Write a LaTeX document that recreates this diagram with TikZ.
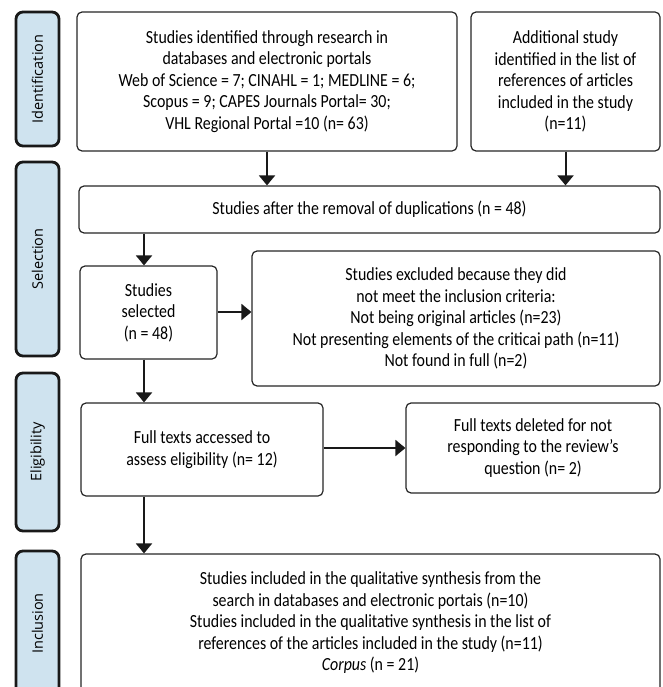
\documentclass[tikz,border=0pt]{standalone}
\usepackage{fontspec}
\setmainfont{Carlito}[FakeStretch=0.86]
\newfontfamily\labfont{Open Sans}
\usetikzlibrary{arrows.meta}
\definecolor{labblue}{HTML}{CFE3EF}
\tikzset{
  box/.style={draw=black!85, line width=1.2pt, rounded corners=5pt, fill=white,
    align=center, inner sep=0pt, font=\fontsize{18.5}{21.5}\selectfont},
  stage/.style={draw=black!90, line width=2.8pt, rounded corners=7pt, fill=labblue,
    inner sep=0pt, font=\labfont\fontsize{14.5}{16}\selectfont},
  arr/.style={line width=2pt, draw=black!90, -{Triangle[width=16pt,length=10pt]}}
}
\begin{document}
\begin{tikzpicture}[x=1pt,y=-1pt]
\useasboundingbox (0,0) rectangle (662,687);
% stage labels
\node[stage, minimum width=43pt, minimum height=134pt] (sid) at (37.5,79) {\rotatebox{90}{Identification}};
\node[stage, minimum width=43pt, minimum height=194pt] (ssel) at (37.5,259) {\rotatebox{90}{Selection}};
\node[stage, minimum width=43pt, minimum height=158pt] (selig) at (37.5,452) {\rotatebox{90}{Eligibility}};
\node[stage, minimum width=43pt, minimum height=145pt] (sinc) at (37.5,623.5) {\rotatebox{90}{Inclusion}};
% boxes
\node[box, minimum width=380pt, minimum height=139pt] (b1) at (267,81.5)
  {Studies identified through research in\\ databases and electronic portals\\
   Web of Science = 7; CINAHL = 1; MEDLINE = 6;\\ Scopus = 9; CAPES Journals Portal= 30;\\
   VHL Regional Portal =10 (n= 63)};
\node[box, minimum width=189pt, minimum height=139pt] (b2) at (565.5,81.5)
  {Additional study\\ identified in the list of\\ references of articles\\ included in the study\\ (n=11)};
\node[box, minimum width=581pt, minimum height=47pt] (b3) at (369.5,209.5)
  {Studies after the removal of duplications (n = 48)};
\node[box, minimum width=137pt, minimum height=93pt] (sel) at (148.5,312.5)
  {Studies\\ selected\\ (n = 48)};
\node[box, minimum width=408pt, minimum height=135pt] (exc) at (456,318.5)
  {Studies excluded because they did\\ not meet the inclusion criteria:\\
   Not being original articles (n=23)\\ Not presenting elements of the criticai path (n=11)\\
   Not found in full (n=2)};
\node[box, minimum width=242pt, minimum height=93pt] (full) at (202,449.5)
  {Full texts accessed to\\ assess eligibility (n= 12)};
\node[box, minimum width=254pt, minimum height=90pt] (del) at (533,448)
  {Full texts deleted for not\\ responding to the review’s\\ question (n= 2)};
\node[box, minimum width=579pt, minimum height=138pt] (inc) at (370.5,623)
  {Studies included in the qualitative synthesis from the\\
   search in databases and electronic portais (n=10)\\
   Studies included in the qualitative synthesis in the list of\\
   references of the articles included in the study (n=11)\\
   \textit{Corpus} (n = 21)};
% arrows
\coordinate (cx) at (144,0);
\draw[arr] (b1.south) -- (b1.south |- b3.north);
\draw[arr] (b2.south) -- (b2.south |- b3.north);
\draw[arr] (b3.south -| cx) -- (sel.north -| cx);
\draw[arr] (sel.east |- 0,312) -- (exc.west |- 0,312);
\draw[arr] (sel.south -| cx) -- (full.north -| cx);
\draw[arr] (full.east |- 0,448) -- (del.west |- 0,448);
\draw[arr] (full.south -| cx) -- (inc.north -| cx);
\end{tikzpicture}
\end{document}
